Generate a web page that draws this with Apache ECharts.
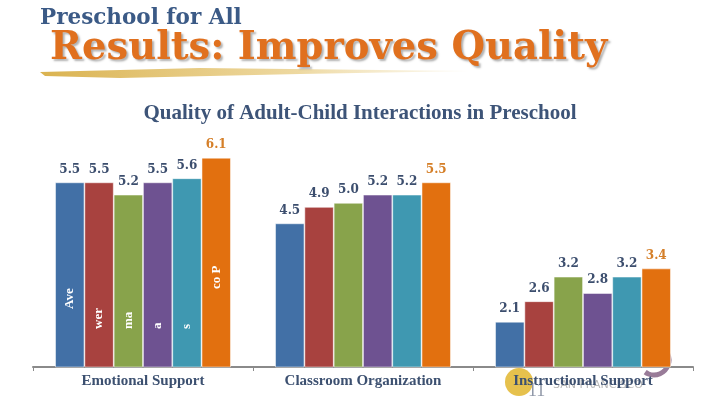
<!DOCTYPE html>
<html>
<head>
<meta charset="utf-8">
<script src="https://cdn.jsdelivr.net/npm/echarts@6/dist/echarts.min.js"></script>
<style>html,body{margin:0;padding:0;background:#fff;}#c{width:720px;height:405px;}</style>
</head>
<body>
<div id="c"></div>
<script>
const categories = ['Emotional Support', 'Classroom Organization', 'Instructional Support'];
const seriesNames = ['Ave', 'wer', 'ma', 'a', 's', 'co P'];
const s1 = [5.5, 4.5, 2.1];
const s2 = [5.5, 4.9, 2.6];
const s3 = [5.2, 5.0, 3.2];
const s4 = [5.5, 5.2, 2.8];
const s5 = [5.6, 5.2, 3.2];
const s6 = [6.1, 5.5, 3.4];
const seriesValues = [s1, s2, s3, s4, s5, s6];
const colors = ['#4270A6', '#A8423F', '#88A34B', '#6E5291', '#3F98B1', '#E2700F'];
const labelColors = ['#3C4E6E', '#3C4E6E', '#3C4E6E', '#3C4E6E', '#3C4E6E', '#D57F28'];
const innerDist = [58, 38, 38, 38, 38, 78];

const chart = echarts.init(document.getElementById('c'));
const series = seriesValues.map((vals, i) => ({
  name: seriesNames[i],
  type: 'bar',
  barWidth: 29,
  barGap: '1%',
  z: 3,
  itemStyle: { color: colors[i], borderColor: '#fff', borderWidth: 0.5 },
  label: {
    show: true, position: 'top', distance: 7,
    color: labelColors[i], fontFamily: 'DejaVu Serif', fontWeight: 'bold', fontSize: 12,
    formatter: p => p.value.toFixed(1)
  },
  data: vals
}));
// inner rotated partial labels on the first group
seriesValues.forEach((vals, i) => {
  series.push({
    type: 'bar', barWidth: 29, barGap: '1%',
    silent: true,
    xAxisIndex: 1,
    itemStyle: { color: 'rgba(0,0,0,0)' },
    z: 5,
    label: {
      show: true, position: 'insideBottom', rotate: 90, align: 'left', verticalAlign: 'middle',
      distance: innerDist[i], color: '#fff', fontFamily: 'Liberation Serif', fontWeight: 'bold', fontSize: 13,
      formatter: () => seriesNames[i]
    },
    data: vals.map((v, j) => j === 0 ? v : '-')
  });
});

chart.setOption({
  animation: false,
  backgroundColor: '#fff',
  title: [
    { text: 'Preschool for All', left: 35, top: 2, textStyle: { fontFamily: 'DejaVu Serif', fontWeight: 'bold', fontSize: 21.5, color: '#3B5A86' } },
    { text: 'Results: Improves Quality', left: 45, top: 24, textStyle: { fontFamily: 'DejaVu Serif', fontWeight: 'bold', fontSize: 38.5, color: '#E0701E', textShadowColor: 'rgba(0,0,0,0.3)', textShadowBlur: 2, textShadowOffsetX: 2, textShadowOffsetY: 2 } },
    { text: 'Quality of Adult-Child Interactions in Preschool', left: 'center', top: 98, textStyle: { fontFamily: 'Liberation Serif', fontWeight: 'bold', fontSize: 21, color: '#3D5478' } }
  ],
  graphic: [
    { type: 'polygon', z: -1, shape: { points: [[40, 72], [200, 68], [470, 71], [300, 74], [120, 78], [45, 76]] },
      style: { fill: new echarts.graphic.LinearGradient(0, 0, 1, 0, [{ offset: 0, color: 'rgba(214,170,60,0.9)' }, { offset: 0.6, color: 'rgba(230,200,120,0.7)' }, { offset: 1, color: 'rgba(240,225,180,0.2)' }]) } },
    { type: 'circle', z: -2, shape: { cx: 519, cy: 382, r: 14 }, style: { fill: '#E2B62E', opacity: 0.85 } },
    { type: 'arc', z: -2, shape: { cx: 654, cy: 360, r: 15, startAngle: -1.2, endAngle: 2.2 }, style: { stroke: '#7E5A7E', lineWidth: 5, fill: null, opacity: 0.8 } },
    { type: 'text', left: 528, top: 382, z: 0, style: { text: '11', fontFamily: 'Liberation Serif', fontSize: 18, fill: '#9098a8' } },
    { type: 'text', left: 553, top: 380, z: 0, style: { text: 'SAN FRANCISCO', fontFamily: 'DejaVu Sans', fontSize: 11, fill: '#b8b8b8', letterSpacing: 2 } }
  ],
  grid: { left: 33, right: 27, top: 141.5, bottom: 38 },
  xAxis: [{
    type: 'category', data: categories,
    axisLine: { lineStyle: { color: '#8a8a8a', width: 2 } },
    axisTick: { show: true, length: 4, lineStyle: { color: '#8a8a8a' } },
    axisLabel: { color: '#3C5070', fontFamily: 'Liberation Serif', fontWeight: 'bold', fontSize: 15, margin: 7 }
  }, {
    type: 'category', data: categories, show: false
  }],
  yAxis: { type: 'value', min: 1, max: 6.5, show: false, splitLine: { show: false } },
  series: series
});
</script>
</body>
</html>
